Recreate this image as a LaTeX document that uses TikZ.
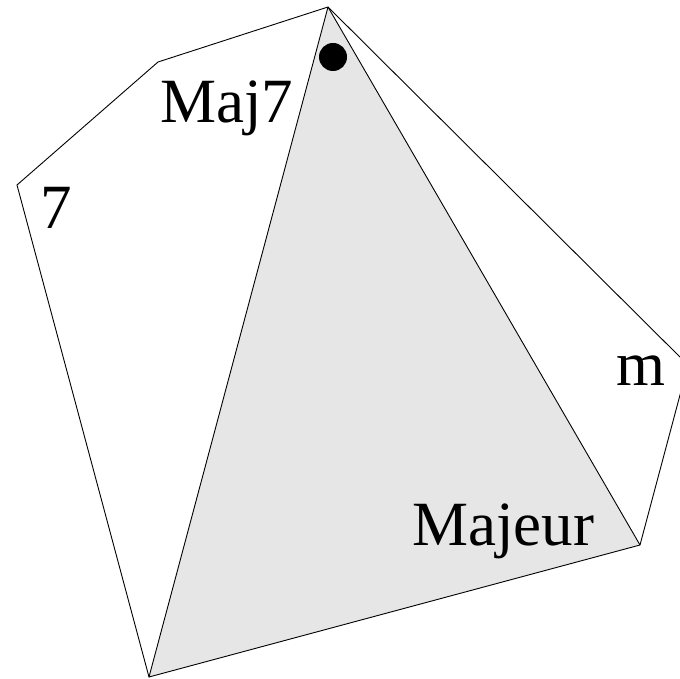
\documentclass[tikz,border=0pt]{standalone}
\usepackage{fontspec}
\setmainfont{Liberation Serif}
\definecolor{triGrey}{RGB}{230,230,230}
\begin{document}
\begin{tikzpicture}[x=1pt,y=-1pt,
  lab/.style={anchor=base west,inner sep=0pt,font=\fontsize{63}{63}\selectfont},
  edge/.style={draw=black,line width=0.9pt,line join=miter}]
\useasboundingbox (0,0) rectangle (680,679);
\clip (0,0) rectangle (680,679);
\coordinate (T) at (328,7);
\coordinate (A) at (158,62);
\coordinate (L) at (17,185);
\coordinate (B) at (149,677);
\coordinate (R) at (640,545);
\coordinate (M) at (688,365);
\fill[fill=triGrey] (T) -- (B) -- (R) -- cycle;
\draw[edge] (T) -- (A) -- (L) -- (B) -- (R) -- (M) -- cycle;
\draw[edge] (T) -- (B);
\draw[edge] (T) -- (R);
\fill[black] (333,57) circle (14);
\node[lab] (maj7) at (160,123) {Maj7};
\node[lab] (sept) at (40,229) {7};
\node[lab] (min) at (616,385) {m};
\node[lab] (majeur) at (412,545) {Majeur};
\end{tikzpicture}
\end{document}
